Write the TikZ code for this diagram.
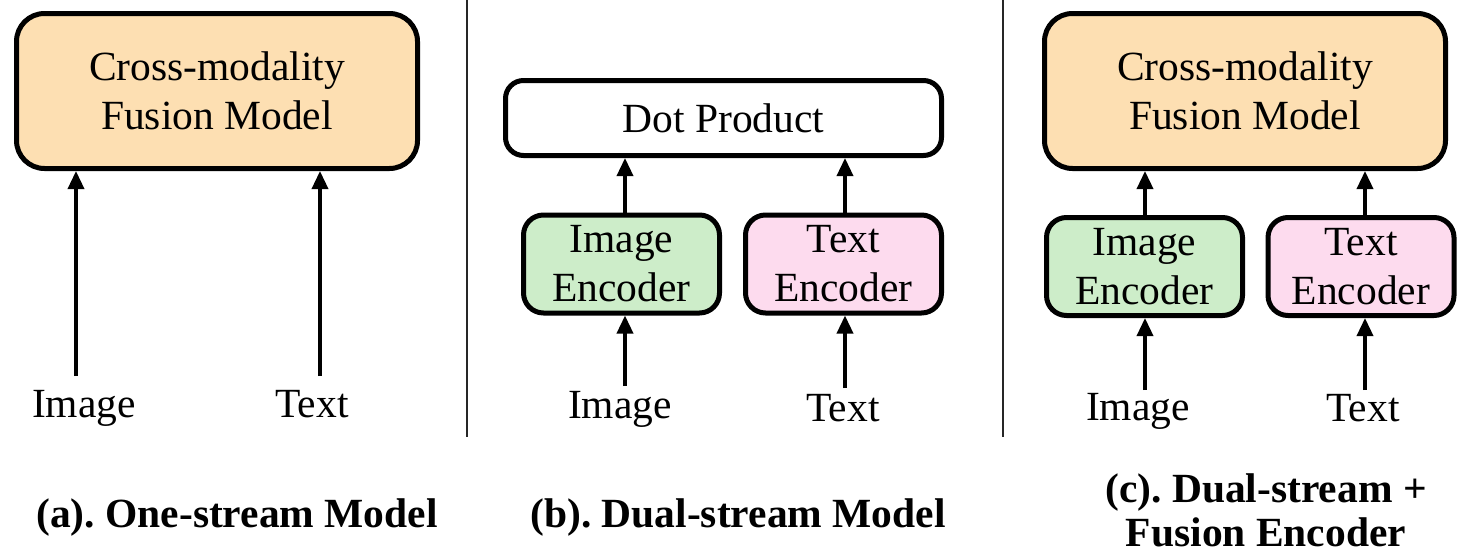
\documentclass[tikz,border=0pt]{standalone}
\usepackage{fontspec}
\setmainfont{Liberation Serif}
\frenchspacing
\usetikzlibrary{arrows.meta}
\definecolor{peach}{HTML}{FDDFB2}
\definecolor{mint}{HTML}{CDEDC9}
\definecolor{blush}{HTML}{FDDBEE}
\tikzset{
  blk/.style={draw=black, line width=5pt, inner sep=0pt, align=center,
    font=\fontsize{41.5}{49}\selectfont},
  fusion/.style={blk, fill=peach, rounded corners=28pt, minimum width=401pt, minimum height=155pt},
  enc/.style={blk, rounded corners=20pt, minimum width=196pt, minimum height=98pt},
  lbl/.style={font=\fontsize{41.5}{46}\selectfont, inner sep=0pt, anchor=base},
  captxt/.style={font=\bfseries\fontsize{41.5}{44}\selectfont, inner sep=0pt, align=center},
  arr/.style={line width=3.5pt, -{Triangle[length=18pt,width=16pt]}},
  divider/.style={line width=2pt, black!85},
}
\begin{document}
\begin{tikzpicture}[x=1pt,y=-1pt]
\useasboundingbox (0,0) rectangle (1457,554);

% (a) one-stream
\node[fusion] (fusA) at (217,91) {Cross-modality\\Fusion Model};
\node[lbl] (imgA) at (84,417) {Image};
\node[lbl] (txtA) at (312,417) {Text};
\coordinate (aI) at (76,376);
\coordinate (aT) at (320,376);
\draw[arr] (aI) -- (aI |- fusA.south);
\draw[arr] (aT) -- (aT |- fusA.south);
\node[captxt, anchor=base] (capA) at (237,527) {(a). One-stream Model};

\draw[divider] (467,0) -- (467,437);

% (b) dual-stream
\node[blk, fill=white, rounded corners=18pt, minimum width=436pt, minimum height=75pt] (dot) at (723.5,118) {Dot Product};
\node[enc, fill=mint] (ieB) at (621.5,264) {Image\\Encoder};
\node[enc, fill=blush] (teB) at (843.5,264) {Text\\Encoder};
\node[lbl] (imgB) at (620,418) {Image};
\node[lbl] (txtB) at (843,421) {Text};
\coordinate (bI) at (625,386);
\coordinate (bT) at (845,388);
\draw[arr] (bI) -- (bI |- ieB.south);
\draw[arr] (bT) -- (bT |- teB.south);
\draw[arr] (ieB.north -| bI) -- (bI |- dot.south);
\draw[arr] (teB.north -| bT) -- (bT |- dot.south);
\node[captxt, anchor=base] (capB) at (738,527) {(b). Dual-stream Model};

\draw[divider] (1003,0) -- (1003,437);

% (c) dual-stream + fusion
\node[fusion] (fusC) at (1245,91) {Cross-modality\\Fusion Model};
\node[enc, fill=mint] (ieC) at (1144.5,266.5) {Image\\Encoder};
\node[enc, fill=blush, minimum width=186pt] (teC) at (1361,266.5) {Text\\Encoder};
\node[lbl] (imgC) at (1138,420) {Image};
\node[lbl] (txtC) at (1363,421) {Text};
\coordinate (cI) at (1145,390);
\coordinate (cT) at (1365,390);
\draw[arr] (cI) -- (cI |- ieC.south);
\draw[arr] (cT) -- (cT |- teC.south);
\draw[arr] (ieC.north -| cI) -- (cI |- fusC.south);
\draw[arr] (teC.north -| cT) -- (cT |- fusC.south);
\node[captxt] (capC) at (1266,510) {(c). Dual-stream +\\Fusion Encoder};
\end{tikzpicture}
\end{document}
